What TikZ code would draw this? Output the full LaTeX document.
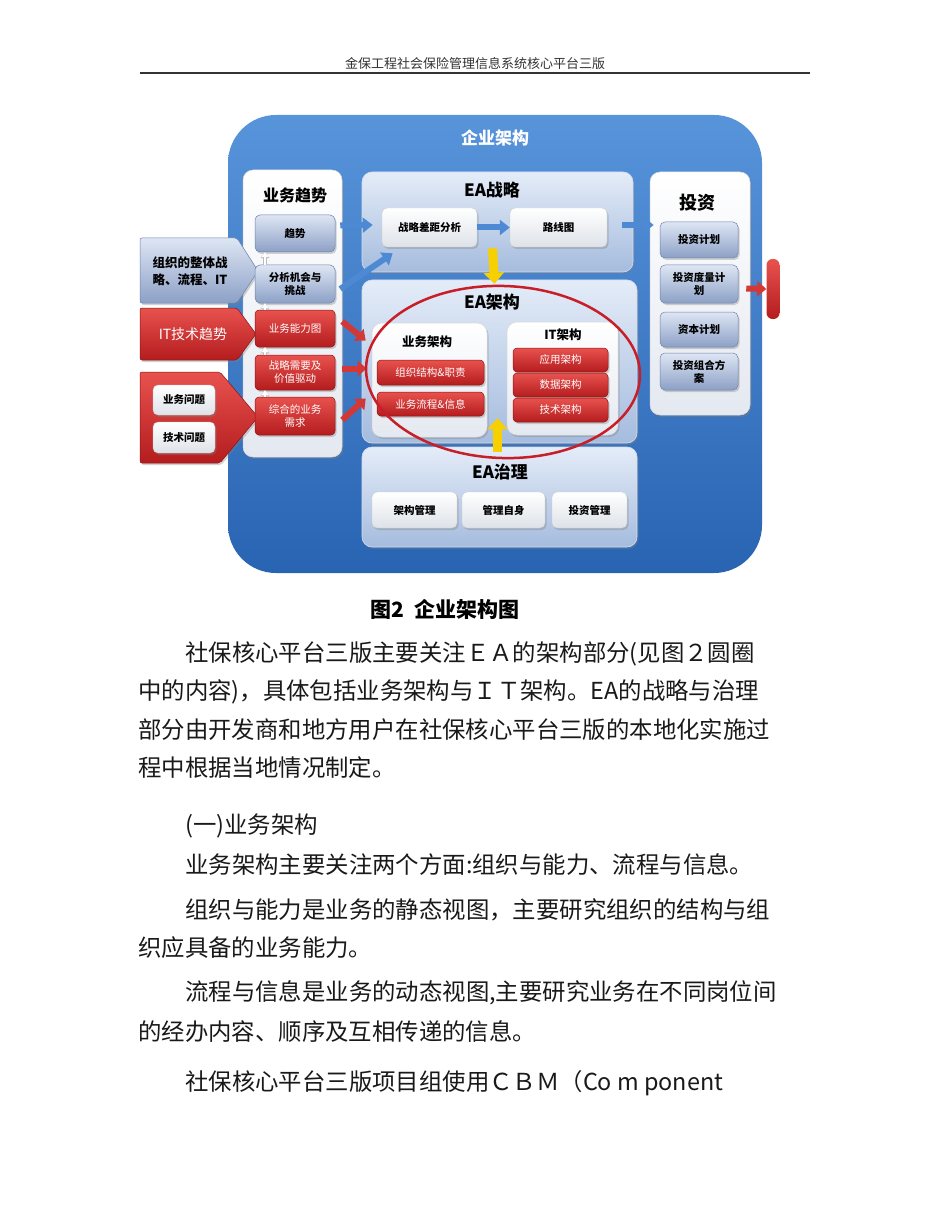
\documentclass[tikz,border=0pt]{standalone}
\usepackage{fontspec}
\setmainfont{Noto Sans CJK SC}
\usetikzlibrary{shadows,arrows.meta,shapes.geometric,calc}
\definecolor{eaT}{RGB}{88,148,218}
\definecolor{eaB}{RGB}{40,100,178}
\definecolor{pnlT}{RGB}{228,236,248}
\definecolor{pnlB}{RGB}{165,188,222}
\definecolor{wpB}{RGB}{228,232,240}
\definecolor{gbT}{RGB}{222,230,244}
\definecolor{gbB}{RGB}{140,160,198}
\definecolor{gbD}{RGB}{110,130,170}
\definecolor{rT}{RGB}{232,82,78}
\definecolor{rB}{RGB}{180,28,30}
\definecolor{rD}{RGB}{140,20,20}
\definecolor{wbB}{RGB}{222,226,232}
\definecolor{arrB}{RGB}{78,138,212}
\definecolor{redA}{RGB}{212,56,52}
\definecolor{yel}{RGB}{246,208,0}
\definecolor{ellred}{RGB}{200,30,40}
\newcommand\fsz[2]{\fontsize{#1}{#2}\selectfont}
\begin{document}
\begin{tikzpicture}[x=1pt,y=-1pt,
  sz/.style 2 args={minimum width=#1pt, minimum height=#2pt},
  shd/.style={drop shadow={opacity=.35,shadow xshift=1.5pt,shadow yshift=-2pt}},
  outerbox/.style={rounded corners=48pt, top color=eaT, bottom color=eaB, inner sep=0},
  panel/.style={rounded corners=10pt, top color=pnlT, bottom color=pnlB, draw=white!50!pnlB, line width=.6pt, inner sep=0, shd},
  wpanel/.style={rounded corners=10pt, top color=white, bottom color=wpB, draw=white!70!gray, line width=.5pt, inner sep=0, shd},
  gbox/.style={rounded corners=5pt, top color=gbT, bottom color=gbB, draw=gbD, line width=.5pt, align=center, inner sep=1pt, font=\bfseries\fsz{10.5}{13}, shd},
  rbox/.style={rounded corners=4pt, top color=rT, bottom color=rB, draw=rD, line width=.5pt, text=white, align=center, inner sep=1pt, font=\fsz{10.5}{13}, shd},
  wbox/.style={rounded corners=5pt, top color=white, bottom color=wbB, draw=gray!40, line width=.4pt, align=center, inner sep=1pt, font=\bfseries\fsz{10.5}{13}, shd},
  bluearr/.style={draw=arrB, line width=6pt, -{Triangle[length=10pt,width=15pt]}},
  redarr/.style={draw=redA, line width=6pt, -{Triangle[length=9pt,width=15pt]}},
  yelarr/.style={draw=yel, line width=9pt, -{Triangle[length=11pt,width=20pt]}},
  warr/.style={draw=white, line width=2.5pt, -{Triangle[length=5pt,width=7pt]},
     preaction={draw=gray!55, line width=3.6pt, -{Triangle[length=6pt,width=8.6pt]}}},
  ptitle/.style={font=\bfseries\fsz{16}{18}, inner sep=0},
  body/.style={anchor=west, font=\fsz{23.4}{23.4}, inner sep=0, text=black!90}
]
\fill[white] (0,0) rectangle (950,1230);
\useasboundingbox (0,0) rectangle (950,1230);

% header
\node[font=\fsz{13}{13}, text=black!80, inner sep=0] (hdr) at (475,64) {金保工程社会保险管理信息系统核心平台三版};
\coordinate (hl) at (140,73);
\coordinate (hr) at (810,73);
\draw[line width=1.3pt, black!80] (hl) -- (hr);

% outer frame
\node[outerbox, sz={534}{458}] (ea) at (495,344) {};
\node[font=\bfseries\fsz{17}{19}, text=white, inner sep=0] (eat) at (495,138) {企业架构};

% business trend panel
\node[wpanel, sz={99}{287}] (trend) at (292.5,313.5) {};
\node[ptitle] (trendt) at (295,195) {业务趋势};

% left pentagon arrows (over the panel edge)
\path[top color=gbT, bottom color=gbB, draw=gbD, line width=.5pt, rounded corners=2pt, shd]
  (140,238) -- (237,238) -- (258,271) -- (237,303) -- (140,303) -- cycle;
\node[font=\bfseries\fsz{12.5}{17}, align=center, inner sep=0] (org) at (190,271) {组织的整体战\\略、流程、IT};
\path[top color=rT, bottom color=rB, draw=rD, line width=.5pt, rounded corners=2pt, shd]
  (140,308) -- (237,308) -- (256,334) -- (237,360) -- (140,360) -- cycle;
\node[font=\fsz{14}{16}, text=white, inner sep=0] (ittr) at (193,334) {IT技术趋势};
\path[top color=rT, bottom color=rB, draw=rD, line width=.5pt, rounded corners=2pt, shd]
  (140,372) -- (220,372) -- (258,417) -- (220,463) -- (140,463) -- cycle;
\node[wbox, sz={62}{30}] (q1) at (184,400) {业务问题};
\node[wbox, sz={62}{31}] (q2) at (184,437.5) {技术问题};

\node[gbox, sz={80}{37}] (t1) at (295,233.5) {趋势};
\node[gbox, sz={80}{38}] (ana) at (295,284) {分析机会与\\挑战};
\node[rbox, sz={80}{37}] (cap) at (295,328.5) {业务能力图};
\node[rbox, sz={80}{35}] (strat) at (295,372.5) {战略需要及\\价值驱动};
\node[rbox, sz={80}{38}] (req) at (295,416) {综合的业务\\需求};
\draw[warr] ([xshift=-30pt]req.north) -- ([xshift=-30pt]strat.south);
\draw[warr] ([xshift=-30pt]strat.north) -- ([xshift=-30pt]cap.south);
\draw[warr] ([xshift=-30pt]cap.north) -- ([xshift=-30pt]ana.south);
\draw[warr] ([xshift=-30pt]ana.north) -- ([xshift=-30pt]t1.south);

% EA strategy
\node[panel, sz={271}{100}] (estr) at (497.5,222) {};
\node[ptitle, font=\bfseries\fsz{17}{19}] (estrt) at (492,190) {EA战略};
\node[wbox, sz={95}{39}] (s1) at (429.5,227.5) {战略差距分析};
\node[wbox, sz={97}{39}] (s2) at (558.5,227.5) {路线图};

% EA architecture
\node[panel, sz={275}{163}] (eaa) at (499.5,361.5) {};
\node[ptitle, font=\bfseries\fsz{17}{19}] (eaat) at (492,302) {EA架构};
\node[wpanel, sz={115}{114}] (biz) at (429.5,380) {};
\node[font=\bfseries\fsz{12.5}{14}, inner sep=0] (bizt) at (427,342) {业务架构};
\node[rbox, sz={107}{25}] (b1) at (430.5,372.5) {组织结构\&职责};
\node[rbox, sz={107}{24}] (b2) at (430.5,404) {业务流程\&信息};
\node[wpanel, sz={111}{113}] (ita) at (562.5,378.5) {};
\node[font=\bfseries\fsz{12.5}{14}, inner sep=0] (itat) at (563,335) {IT架构};
\node[rbox, sz={95}{24}] (a1) at (560.5,360) {应用架构};
\node[rbox, sz={95}{24}] (a2) at (560.5,385) {数据架构};
\node[rbox, sz={95}{24}] (a3) at (560.5,410) {技术架构};

% EA governance
\node[panel, sz={275}{100}] (gov) at (499.5,497) {};
\node[ptitle, font=\bfseries\fsz{17}{19}] (govt) at (500,472) {EA治理};
\node[wbox, sz={85}{36}] (g1) at (414.5,510) {架构管理};
\node[wbox, sz={83}{36}] (g2) at (503.5,510) {管理自身};
\node[wbox, sz={75}{36}] (g3) at (589.5,510) {投资管理};

% investment
\node[wpanel, sz={100}{243}] (inv) at (700,293.5) {};
\node[ptitle, font=\bfseries\fsz{18}{20}] (invt) at (697,203) {投资};
\node[gbox, sz={78}{36}] (i1) at (699,240) {投资计划};
\node[gbox, sz={78}{38}] (i2) at (699,284) {投资度量计\\划};
\node[gbox, sz={78}{35}] (i3) at (699,329.5) {资本计划};
\node[gbox, sz={78}{37}] (i4) at (699,371.5) {投资组合方\\案};

% right red exit
\node[rounded corners=6pt, top color=rT, bottom color=rB, sz={13}{60}, inner sep=0] (pill) at (773,289) {};
\draw[redarr] ($(inv.east)+(-4,-5)$) -- (pill.west);

% blue arrows
\draw[bluearr] ($(t1.east)+(5,-8)$) -- ($(estr.west)+(11,3)$);
\draw[bluearr] ($(ana.east)+(5,5)$) -- ($(estr.south west)+(31,-19)$);
\draw[bluearr] (s1.east) -- (s2.west);
\draw[bluearr] ($(estr.east)+(-11,3)$) -- ($(estr.east -| inv.west)+(4,3)$);

% red arrows
\draw[redarr] ($(cap.east)+(7,-7)$) -- ($(eaa.west)+(4,-21)$);
\draw[redarr] ($(strat.east)+(7,-4)$) -- ($(strat.east -| eaa.west)+(5,-4)$);
\draw[redarr] ($(req.east)+(7,4)$) -- ($(eaa.west)+(4,37)$);

% yellow arrows
\draw[yelarr] ($(estr.south)+(-5,-24)$) -- ($(eaa.north)+(-5,4)$);
\draw[yelarr] ($(gov.north)+(-2,5)$) -- ($(eaa.south)+(-2,-25)$);

% ellipse
\node[draw=ellred, line width=2.5pt, ellipse, sz={274}{172}, inner sep=0, rotate=-2] (circ) at (503,372) {};

% caption
\node[font=\bfseries\fsz{21}{21}, inner sep=0, anchor=west] (capt) at (370,609) {图2\enspace 企业架构图};

% body text
\node[body] (l1) at (185,654) {社保核心平台三版主要关注ＥＡ的架构部分(见图２圆圈};
\node[body] (l2) at (138,692) {中的内容)，具体包括业务架构与ＩＴ架构。EA的战略与治理};
\node[body] (l3) at (138,730) {部分由开发商和地方用户在社保核心平台三版的本地化实施过};
\node[body] (l4) at (138,768) {程中根据当地情况制定。};
\node[body] (l5) at (185,826) {(一)业务架构};
\node[body] (l6) at (185,865) {业务架构主要关注两个方面:组织与能力、流程与信息。};
\node[body] (l7) at (185,910) {组织与能力是业务的静态视图，主要研究组织的结构与组};
\node[body] (l8) at (138,948) {织应具备的业务能力。};
\node[body] (l9) at (185,993) {流程与信息是业务的动态视图,主要研究业务在不同岗位间};
\node[body] (l10) at (138,1032) {的经办内容、顺序及互相传递的信息。};
\node[body] (l11) at (185,1083) {社保核心平台三版项目组使用ＣＢＭ（Co m ponent};
\end{tikzpicture}
\end{document}
